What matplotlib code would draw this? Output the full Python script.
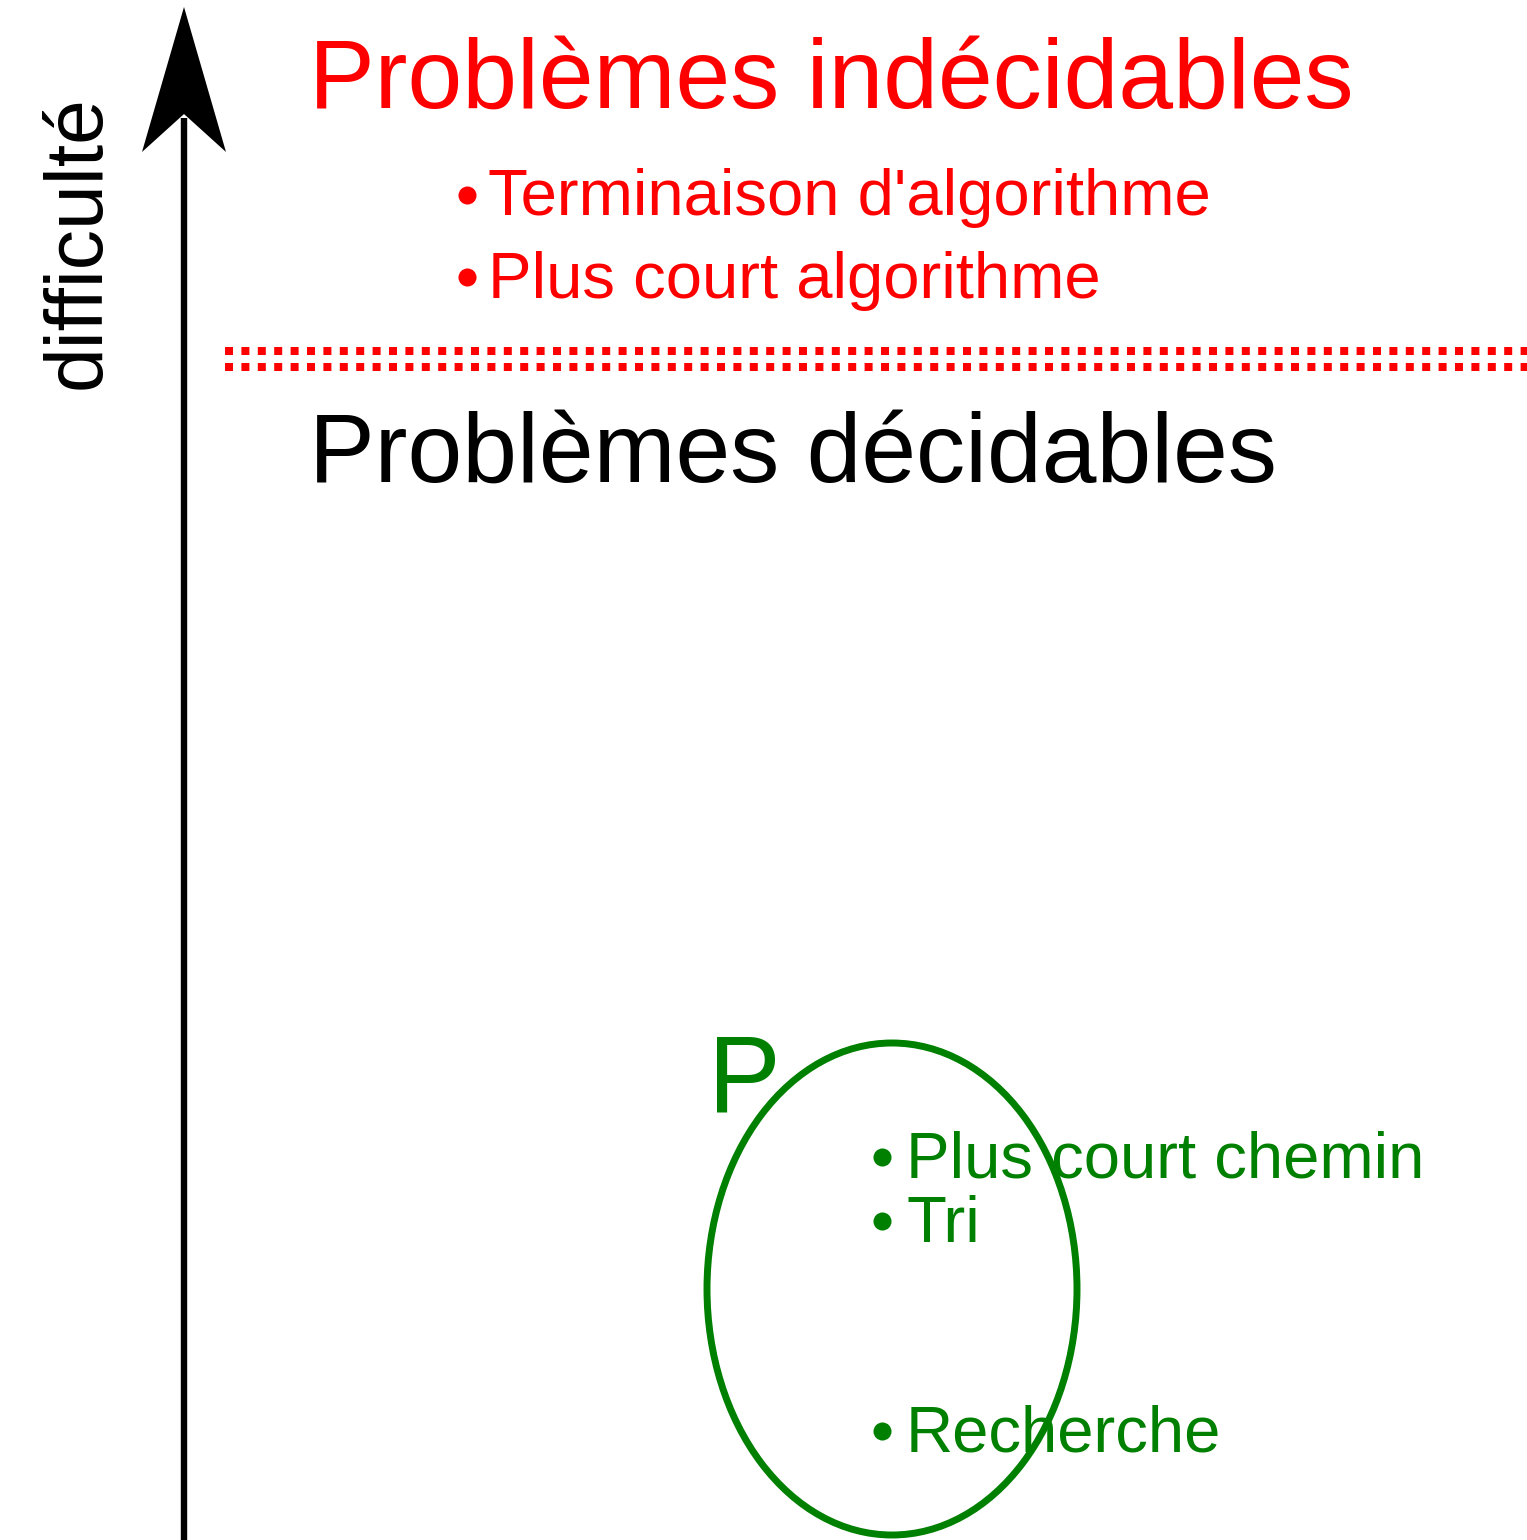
import matplotlib
matplotlib.use('Agg')
import matplotlib.pyplot as plt
from matplotlib.patches import Ellipse, Polygon

plt.rcParams['font.family'] = ['Liberation Sans', 'DejaVu Sans']

# textes (pixels de l'image, y vers le bas)
titles = ['Problèmes indécidables', 'Problèmes décidables']
title_colors = ['red', 'black']
title_x = [309, 309]
title_y = [108, 482]

red_items = ["Terminaison d'algorithme", 'Plus court algorithme']
red_y = [215, 298]
red_bullet_y = [195, 277]

green_items = ['Plus court chemin', 'Tri', 'Recherche']
green_y = [1178, 1242, 1452]
green_bullet_y = [1157, 1221, 1431]

dot_rows = [351, 367]

fig = plt.figure(figsize=(15.27, 15.40), dpi=100)
ax = fig.add_axes([0, 0, 1, 1])
ax.set_xlim(0, 1527)
ax.set_ylim(1540, 0)
ax.axis('off')

# axe "difficulté"
ax.plot([184, 184], [1540, 118], color='black', linewidth=4.6, solid_capstyle='butt')
ax.add_patch(Polygon([(184, 7), (226, 152), (184, 114), (142, 152)], closed=True,
                     facecolor='black', edgecolor='none'))
ax.text(100, 389, 'difficulté', rotation=90, rotation_mode='anchor',
        ha='left', va='baseline', fontsize=58, color='black')

# titres
for t, c, x, y in zip(titles, title_colors, title_x, title_y):
    ax.text(x, y, t, color=c, fontsize=70.8, ha='left', va='baseline')

# limite décidable / indécidable
for y in dot_rows:
    ax.plot([225, 1527], [y, y], color='red', linewidth=5.76, dashes=(1, 1.05),
            dash_capstyle='butt')

# problèmes indécidables
for t, y, by in zip(red_items, red_y, red_bullet_y):
    ax.text(488, y, t, color='red', fontsize=47, ha='left', va='baseline')
    ax.plot(467, by, 'o', color='red', markersize=13, markeredgewidth=0)

# classe P
ax.add_patch(Ellipse((892, 1289), 370, 492, facecolor='none', edgecolor='green', linewidth=5))
ax.text(708, 1111, 'P', color='green', fontsize=78.5, ha='left', va='baseline')
for t, y, by in zip(green_items, green_y, green_bullet_y):
    ax.text(906, y, t, color='green', fontsize=47, ha='left', va='baseline')
    ax.plot(882, by, 'o', color='green', markersize=13, markeredgewidth=0)

fig.savefig('out.png', dpi=100)
